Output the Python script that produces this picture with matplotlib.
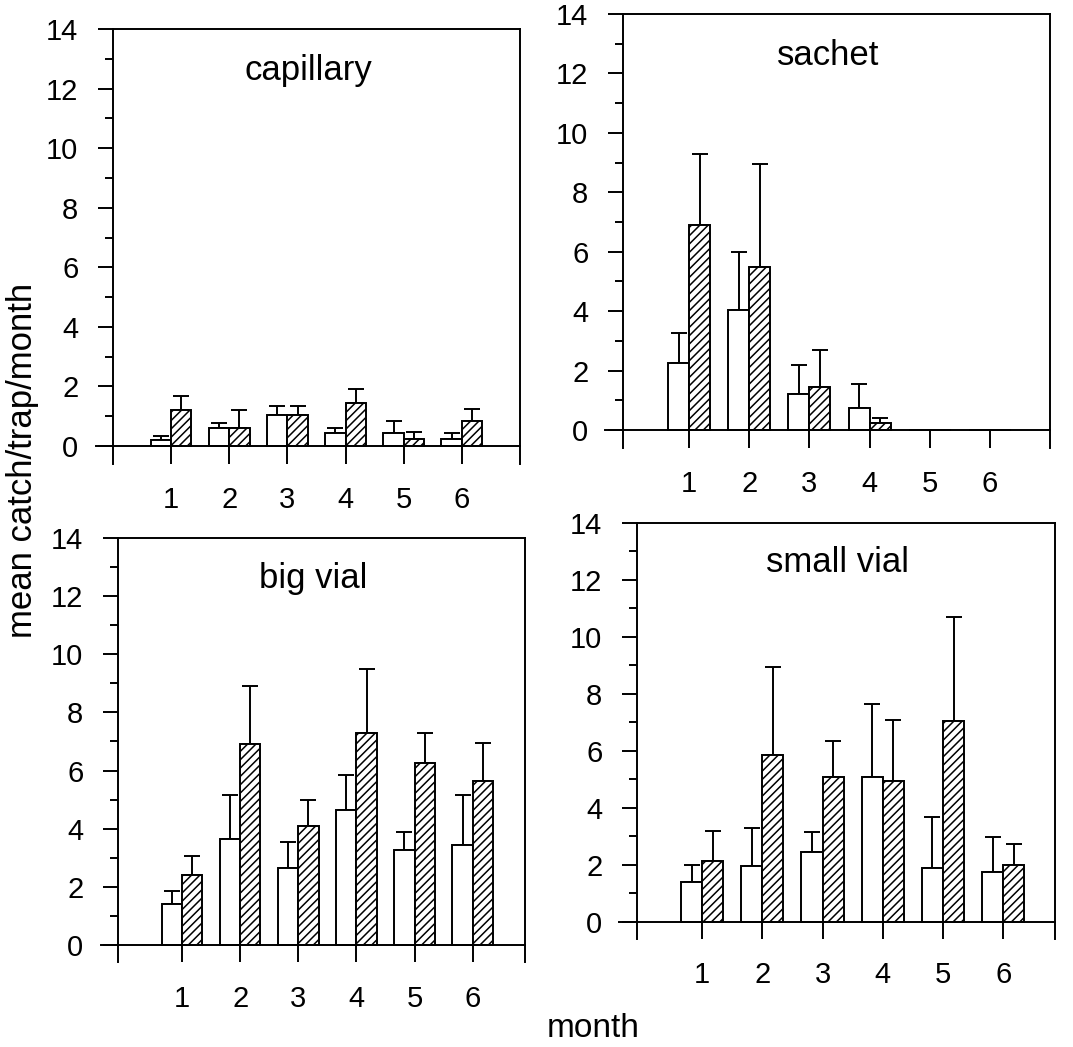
import matplotlib
matplotlib.use("Agg")
import numpy as np
import matplotlib.pyplot as plt
from matplotlib.ticker import MultipleLocator

plt.rcParams["font.family"] = ["Liberation Sans", "DejaVu Sans"]
plt.rcParams["hatch.linewidth"] = 1.1

months = [1, 2, 3, 4, 5, 6]
titles = ["capillary", "sachet", "big vial", "small vial"]

# open bars (mean, upper error) and hatched bars
capillary_open = [0.2, 0.6, 1.05, 0.45, 0.45, 0.25]
capillary_open_err = [0.15, 0.17, 0.3, 0.17, 0.38, 0.2]
capillary_hatch = [1.2, 0.62, 1.05, 1.45, 0.22, 0.85]
capillary_hatch_err = [0.47, 0.58, 0.28, 0.47, 0.25, 0.4]

sachet_open = [2.25, 4.05, 1.2, 0.75, 0, 0]
sachet_open_err = [1.0, 1.95, 1.0, 0.8, 0, 0]
sachet_hatch = [6.9, 5.5, 1.45, 0.22, 0, 0]
sachet_hatch_err = [2.4, 3.45, 1.25, 0.18, 0, 0]

bigvial_open = [1.4, 3.65, 2.65, 4.65, 3.25, 3.45]
bigvial_open_err = [0.47, 1.5, 0.9, 1.2, 0.62, 1.72]
bigvial_hatch = [2.4, 6.9, 4.1, 7.3, 6.25, 5.65]
bigvial_hatch_err = [0.65, 2.0, 0.9, 2.2, 1.05, 1.3]

smallvial_open = [1.4, 1.95, 2.45, 5.1, 1.9, 1.75]
smallvial_open_err = [0.6, 1.35, 0.72, 2.55, 1.8, 1.22]
smallvial_hatch = [2.15, 5.85, 5.1, 4.95, 7.05, 2.0]
smallvial_hatch_err = [1.03, 3.1, 1.25, 2.15, 3.65, 0.75]

panels = [
    (capillary_open, capillary_open_err, capillary_hatch, capillary_hatch_err),
    (sachet_open, sachet_open_err, sachet_hatch, sachet_hatch_err),
    (bigvial_open, bigvial_open_err, bigvial_hatch, bigvial_hatch_err),
    (smallvial_open, smallvial_open_err, smallvial_hatch, smallvial_hatch_err),
]

# axes boxes (fig fraction) and x-limits, matched to the scan
rects = [
    [0.1053, 0.5569, 0.3793, 0.4154],
    [0.5806, 0.5723, 0.3980, 0.4143],
    [0.1100, 0.0808, 0.3793, 0.4054],
    [0.5937, 0.1031, 0.3896, 0.3974],
]
xlims = [(0, 7), (-0.1, 7), (-0.1, 6.9), (-0.08, 6.86)]

fig = plt.figure(figsize=(10.73, 10.47), dpi=100)
w = 0.35
x = np.array(months, dtype=float)
lw = 1.4

for rect, xl, title, (op, ope, ha, hae) in zip(rects, xlims, titles, panels):
    ax = fig.add_axes(rect)
    op, ope, ha, hae = map(np.array, (op, ope, ha, hae))

    ax.bar(x - w / 2, op, w, facecolor="white", edgecolor="black", linewidth=lw, zorder=3)
    ax.bar(x + w / 2, ha, w, facecolor="white", edgecolor="black", linewidth=lw,
           hatch="////", zorder=3)

    # upper error bars only, skip empty months
    ek = dict(fmt="none", ecolor="black", elinewidth=lw, capsize=6, capthick=lw, zorder=2)
    m = op > 0
    ax.errorbar(x[m] - w / 2, op[m], yerr=[np.zeros(m.sum()), ope[m]], **ek)
    m = ha > 0
    ax.errorbar(x[m] + w / 2, ha[m], yerr=[np.zeros(m.sum()), hae[m]], **ek)

    ax.set_xlim(*xl)
    ax.set_ylim(-0.6, 14)
    # zero line runs a bit past the y axis, like the original
    ax.plot([xl[0] - 0.3, xl[1]], [0, 0], color="black", lw=lw, clip_on=False, zorder=4)
    ax.spines["bottom"].set_visible(False)
    for s in ("left", "right", "top"):
        ax.spines[s].set_linewidth(lw)

    ax.set_xticks(months)
    ax.tick_params(axis="x", direction="in", length=12.5, width=lw, pad=16, labelsize=21)
    ax.yaxis.set_major_locator(MultipleLocator(2))
    ax.yaxis.set_minor_locator(MultipleLocator(1))
    ax.set_yticks([0, 2, 4, 6, 8, 10, 12, 14])
    ax.tick_params(axis="y", which="major", direction="out", length=11, width=lw,
                   pad=14, labelsize=21)
    ax.tick_params(axis="y", which="minor", direction="out", length=6, width=lw)

    ax.text(0.48, 0.905, title, transform=ax.transAxes, ha="center", va="center",
            fontsize=25)

fig.text(0.021, 0.56, "mean catch/trap/month", rotation=90, ha="center", va="center",
         fontsize=25)
fig.text(0.553, 0.018, "month", ha="center", va="center", fontsize=24)

fig.savefig("out.png", dpi=100)
